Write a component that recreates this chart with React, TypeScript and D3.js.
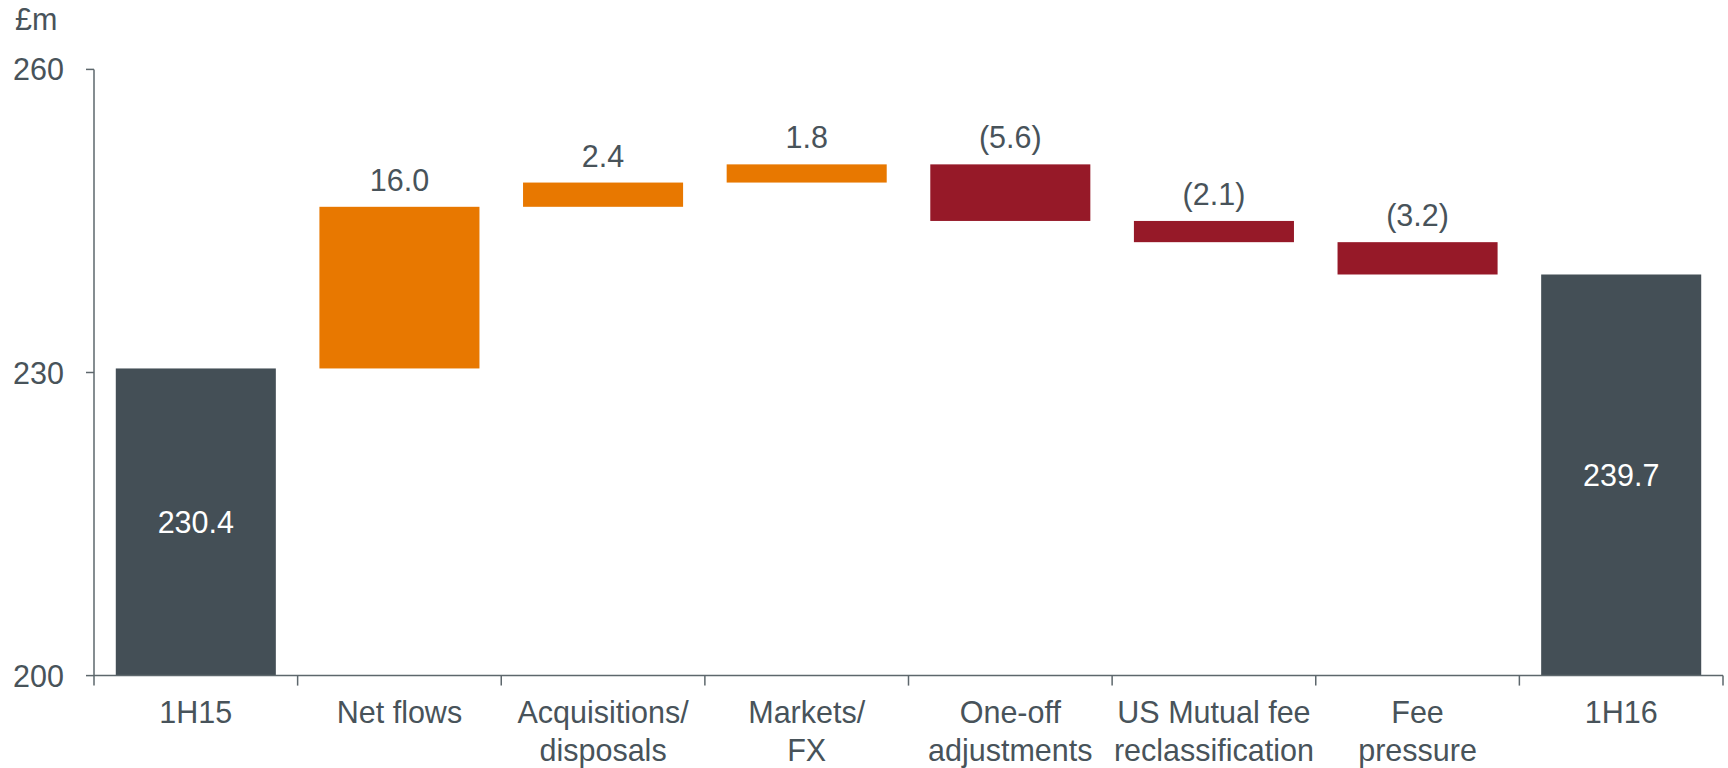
import React from "react";
import * as d3 from "d3";

const categories = [
  ["1H15"],
  ["Net flows"],
  ["Acquisitions/", "disposals"],
  ["Markets/", "FX"],
  ["One-off", "adjustments"],
  ["US Mutual fee", "reclassification"],
  ["Fee", "pressure"],
  ["1H16"],
];
const values = [230.4, 16.0, 2.4, 1.8, -5.6, -2.1, -3.2, 239.7];
const isTotal = [true, false, false, false, false, false, false, true];
const yTicks = [200, 230, 260];
const unitLabel = "£m";

const W = 1728;
const H = 768;
const TEXT = "#48535a";
const AXIS = "#5d676c";
const GREY = "#444f56";
const ORANGE = "#e87800";
const RED = "#961928";
const FONT = "'Liberation Sans', Arial, sans-serif";

export default function App() {
  const x = d3
    .scaleBand<number>()
    .domain(d3.range(categories.length))
    .range([94, 1723])
    .paddingInner(0.214)
    .paddingOuter(0.107);
  const y = d3.scaleLinear().domain([200, 260]).range([675.6, 69.4]);
  const step = x.step();
  const left = 94;
  const right = 1723;

  let running = 0;
  const bars = values.map((v, i) => {
    let lo: number, hi: number;
    if (isTotal[i]) {
      lo = 200;
      hi = v;
      running = v;
    } else {
      const start = running;
      running = start + v;
      lo = Math.min(start, running);
      hi = Math.max(start, running);
    }
    const color = isTotal[i] ? GREY : v >= 0 ? ORANGE : RED;
    const label = isTotal[i]
      ? v.toFixed(1)
      : v >= 0
      ? v.toFixed(1)
      : `(${Math.abs(v).toFixed(1)})`;
    return { i, lo, hi, color, label, total: isTotal[i] };
  });

  return (
    <svg
      width={W}
      height={H}
      style={{ position: "absolute", left: 0, top: 0, background: "#fff" }}
      fontFamily={FONT}
    >
      <text x={15} y={30} fontSize={30.5} fill={TEXT}>
        {unitLabel}
      </text>
      {bars.map((b) => {
        const bx = x(b.i)!;
        const bw = x.bandwidth();
        const top = y(b.hi);
        const bot = y(b.lo);
        return (
          <g key={b.i}>
            <rect x={bx} y={top} width={bw} height={bot - top} fill={b.color} />
            {b.total ? (
              <text
                x={bx + bw / 2}
                y={(top + bot) / 2 + 11}
                textAnchor="middle"
                fontSize={30.5}
                fill="#ffffff"
              >
                {b.label}
              </text>
            ) : (
              <text
                x={bx + bw / 2}
                y={top - 16}
                textAnchor="middle"
                fontSize={30.5}
                fill={TEXT}
              >
                {b.label}
              </text>
            )}
          </g>
        );
      })}
      {/* y axis */}
      <line x1={left} x2={left} y1={y(260)} y2={y(200)} stroke={AXIS} strokeWidth={1.5} />
      {yTicks.map((t) => (
        <g key={t}>
          <line x1={left - 8} x2={left} y1={y(t)} y2={y(t)} stroke={AXIS} strokeWidth={1.5} />
          <text
            x={left - 30}
            y={y(t) + 11}
            textAnchor="end"
            fontSize={30.5}
            fill={TEXT}
          >
            {t}
          </text>
        </g>
      ))}
      {/* x axis */}
      <line x1={left} x2={right} y1={y(200)} y2={y(200)} stroke={AXIS} strokeWidth={1.5} />
      {d3.range(categories.length + 1).map((k) => {
        const xx = left + k * step;
        return (
          <line
            key={k}
            x1={xx}
            x2={xx}
            y1={y(200)}
            y2={y(200) + 10}
            stroke={AXIS}
            strokeWidth={1.5}
          />
        );
      })}
      {categories.map((lines, i) => (
        <text
          key={i}
          x={x(i)! + x.bandwidth() / 2}
          y={723}
          textAnchor="middle"
          fontSize={30.5}
          fill={TEXT}
        >
          {lines.map((ln, j) => (
            <tspan key={j} x={x(i)! + x.bandwidth() / 2} dy={j === 0 ? 0 : 38}>
              {ln}
            </tspan>
          ))}
        </text>
      ))}
    </svg>
  );
}
